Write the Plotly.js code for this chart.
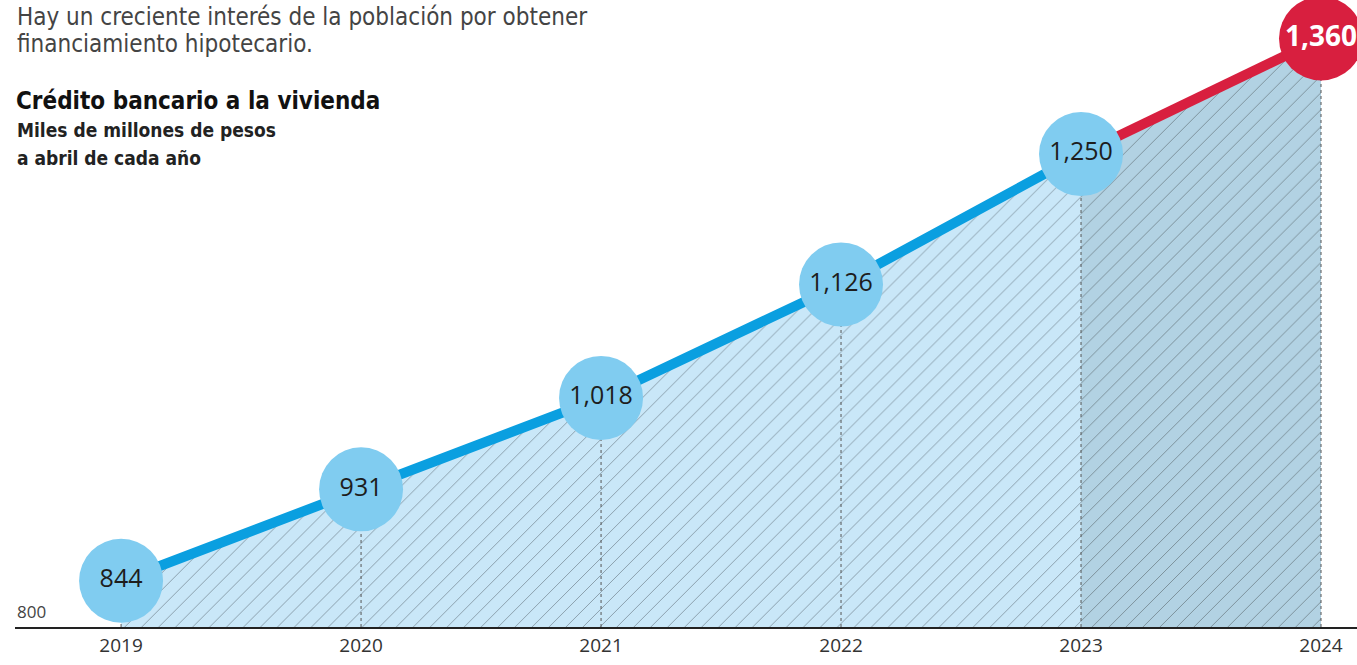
<!DOCTYPE html>
<html><head><meta charset="utf-8">
<script src="https://cdn.plot.ly/plotly-3.0.1.min.js"></script>
<style>html,body{margin:0;padding:0;background:#fff}#chart{width:1357px;height:665px}</style>
</head><body><div id="chart"></div>
<script>
const years = [2019, 2020, 2021, 2022, 2023, 2024];
const values = [844, 931, 1018, 1126, 1250, 1360];
const valueLabels = ['844', '931', '1,018', '1,126', '1,250', '1,360'];
const tickLabels = ['2019', '2020', '2021', '2022', '2023', '2024'];
const baseValue = 800;
const introText = ['Hay un creciente interés de la población por obtener', 'financiamiento hipotecario.'];
const chartTitle = 'Crédito bancario a la vivienda';
const subtitle = ['Miles de millones de pesos', 'a abril de cada año'];

const W = 1357, H = 665, ML = 15, MR = 0, MT = 7, MB = 38;
const PW = W - ML - MR, PH = H - MT - MB;
const px = x => (x - ML) / PW;
const py = y => (H - MB - y) / PH;

const blue = '#0a9fe0', red = '#d81f3f';
const traces = [];

traces.push({
  x: years.slice(0, 5), y: values.slice(0, 5), type: 'scatter', mode: 'none',
  fill: 'tozeroy', fillcolor: '#c9e7f8',
  fillpattern: {shape: '/', bgcolor: '#c9e7f8', fgcolor: '#7f929e', size: 12, solidity: 0.07},
  hoverinfo: 'skip', showlegend: false
});
traces.push({
  x: years.slice(4), y: values.slice(4), type: 'scatter', mode: 'none',
  fill: 'tozeroy', fillcolor: '#b2d2e3',
  fillpattern: {shape: '/', bgcolor: '#b2d2e3', fgcolor: '#72858f', size: 12, solidity: 0.07},
  hoverinfo: 'skip', showlegend: false
});
years.forEach((yr, i) => {
  traces.push({
    x: [yr, yr], y: [baseValue, values[i]], type: 'scatter', mode: 'lines',
    line: {color: '#555', width: 1, dash: 'dot'}, hoverinfo: 'skip', showlegend: false
  });
});
traces.push({
  x: years.slice(0, 5), y: values.slice(0, 5), type: 'scatter', mode: 'lines',
  line: {color: blue, width: 10}, hoverinfo: 'skip', showlegend: false
});
traces.push({
  x: years.slice(4), y: values.slice(4), type: 'scatter', mode: 'lines',
  line: {color: red, width: 10}, hoverinfo: 'skip', showlegend: false
});
traces.push({
  x: years.slice(0, 5), y: values.slice(0, 5), type: 'scatter', mode: 'markers+text',
  marker: {size: 84, color: '#80ccf0', line: {width: 0}},
  text: valueLabels.slice(0, 5), textposition: 'middle center',
  textfont: {family: 'Open Sans, sans-serif', size: 25, color: '#1d1d1d'},
  cliponaxis: false, hoverinfo: 'skip', showlegend: false
});
traces.push({
  x: years.slice(5), y: values.slice(5), type: 'scatter', mode: 'markers+text',
  marker: {size: 84, color: red, line: {width: 0}},
  text: valueLabels.slice(5), textposition: 'middle center',
  textfont: {family: 'Open Sans, sans-serif', size: 28, color: '#ffffff', weight: 'bold'},
  cliponaxis: false, hoverinfo: 'skip', showlegend: false
});

const annotations = [];
introText.forEach((t, i) => annotations.push({
  text: t, xref: 'paper', yref: 'paper', x: px(15), y: py(17 + i * 27),
  xanchor: 'left', yanchor: 'middle', showarrow: false,
  font: {family: 'Liberation Sans Narrow, DejaVu Sans Condensed, sans-serif', size: 24, color: '#444'}
}));
annotations.push({
  text: '<b>' + chartTitle + '</b>', xref: 'paper', yref: 'paper', x: px(14), y: py(101),
  xanchor: 'left', yanchor: 'middle', showarrow: false,
  font: {family: 'Liberation Sans Narrow, DejaVu Sans Condensed, sans-serif', size: 24, color: '#111'}
});
subtitle.forEach((t, i) => annotations.push({
  text: '<b>' + t + '</b>', xref: 'paper', yref: 'paper', x: px(15), y: py(130 + i * 28),
  xanchor: 'left', yanchor: 'middle', showarrow: false,
  font: {family: 'Liberation Sans Narrow, DejaVu Sans Condensed, sans-serif', size: 19, color: '#222'}
}));
annotations.push({
  text: String(baseValue), xref: 'paper', yref: 'y', x: px(15), y: baseValue,
  xanchor: 'left', yanchor: 'bottom', yshift: 2, showarrow: false,
  font: {family: 'Open Sans, sans-serif', size: 17, color: '#444'}
});

const layout = {
  width: W, height: H,
  margin: {l: ML, r: MR, t: MT, b: MB, pad: 0},
  paper_bgcolor: '#fff', plot_bgcolor: '#fff',
  xaxis: {
    range: [2018.558, 2024.15], tickvals: years, ticktext: tickLabels,
    showgrid: false, zeroline: false, showline: true, linecolor: '#222', linewidth: 2,
    ticks: '', tickfont: {family: 'Open Sans, sans-serif', size: 19, color: '#333'}
  },
  yaxis: {
    range: [baseValue, 1390], showgrid: false, zeroline: false, showline: false,
    showticklabels: false, ticks: ''
  },
  annotations: annotations,
  showlegend: false
};
Plotly.newPlot('chart', traces, layout, {displayModeBar: false, staticPlot: true});
</script></body></html>
